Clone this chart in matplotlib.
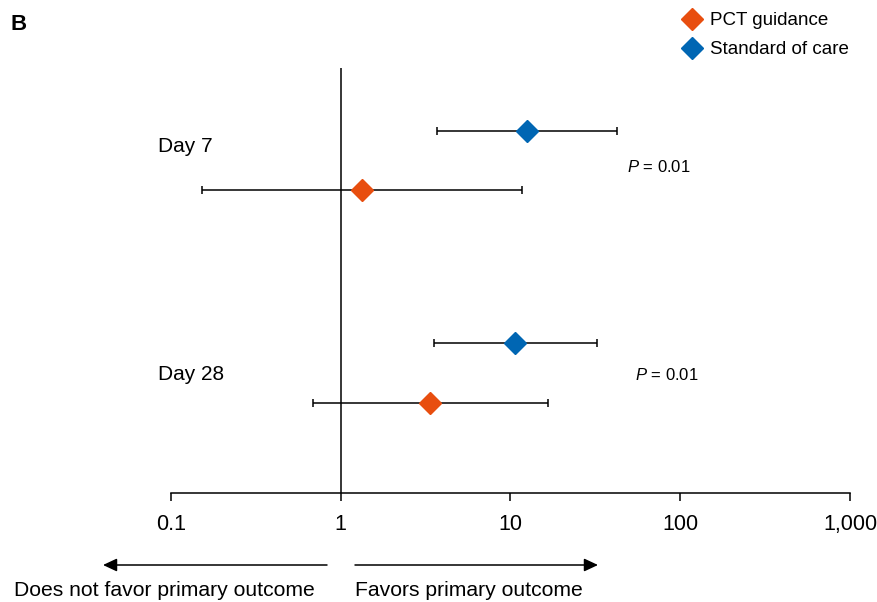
import numpy as np
import matplotlib
matplotlib.use("Agg")
import matplotlib.pyplot as plt
from matplotlib.ticker import FixedLocator, FixedFormatter, NullLocator

plt.rcParams['font.family'] = ['Liberation Sans', 'DejaVu Sans']
plt.rcParams['mathtext.fontset'] = 'custom'
plt.rcParams['mathtext.it'] = 'Liberation Sans:italic'
plt.rcParams['mathtext.rm'] = 'Liberation Sans'

#### data (odds ratio + 95% CI) ####
groups = ['Day 7', 'Day 28']
p_values = ['0.01', '0.01']
soc_or = [12.5, 10.6]
soc_lo = [3.68, 3.53]
soc_hi = [42.3, 32.2]
pct_or = [1.33, 3.35]
pct_lo = [0.152, 0.69]
pct_hi = [11.65, 16.6]
tick_vals = [0.1, 1, 10, 100, 1000]
tick_labels = ['0.1', '1', '10', '100', '1,000']

# row layout (y in axis units 0..10)
soc_y = [8.52, 3.53]
pct_y = [7.13, 2.12]

orange = '#E84E0F'
blue = '#0066B3'

fig = plt.figure(figsize=(8.78, 6.02), dpi=100)
ax = fig.add_axes([171/878, 1-493/602, (850-171)/878, (493-68)/602])

ax.set_xscale('log')
ax.set_xlim(0.1, 1000)
ax.set_ylim(0, 10)

ax.axvline(1, color='black', lw=1.1, zorder=1)

def draw(x, lo, hi, y, col, lab):
    x = np.array(x); y = np.array(y)
    err = [x - np.array(lo), np.array(hi) - x]
    ax.errorbar(x, y, xerr=err, fmt='none', ecolor='black', elinewidth=1.1,
                capsize=3, capthick=1.1, zorder=2)
    ax.plot(x, y, 'D', color=col, ms=11.5, mec=col, zorder=3, label=lab)

draw(pct_or, pct_lo, pct_hi, pct_y, orange, 'PCT guidance')
draw(soc_or, soc_lo, soc_hi, soc_y, blue, 'Standard of care')

# group labels and P values
fig.text(158/878, 1-147/602, groups[0], fontsize=15, va='center', ha='left')
fig.text(158/878, 1-375/602, groups[1], fontsize=15, va='center', ha='left')
fig.text(627/878, 1-167/602, r'$\it{P}$ = ' + p_values[0], fontsize=12, va='center', ha='left')
fig.text(635/878, 1-375/602, r'$\it{P}$ = ' + p_values[1], fontsize=12, va='center', ha='left')

for s in ['top', 'right', 'left']:
    ax.spines[s].set_visible(False)
ax.spines['bottom'].set_linewidth(1.1)
ax.yaxis.set_visible(False)
ax.xaxis.set_major_locator(FixedLocator(tick_vals))
ax.xaxis.set_major_formatter(FixedFormatter(tick_labels))
ax.xaxis.set_minor_locator(NullLocator())
ax.tick_params(axis='x', length=6, width=1.1, labelsize=15.5, pad=9)

leg = ax.legend(loc='upper right', bbox_to_anchor=(849/878, 1-12/602),
                bbox_transform=fig.transFigure, frameon=False, fontsize=13.5,
                handlelength=0.8, handletextpad=0.55, labelspacing=0.65,
                borderpad=0, borderaxespad=0)

# direction arrows
arrow_kw = dict(arrowstyle='-|>,head_length=0.6,head_width=0.28', color='black',
                lw=1.1, mutation_scale=14, shrinkA=0, shrinkB=0)
ax.annotate('', xy=(103/878, 1-565/602), xytext=(327/878, 1-565/602),
            xycoords='figure fraction', textcoords='figure fraction', arrowprops=arrow_kw)
ax.annotate('', xy=(598/878, 1-565/602), xytext=(355/878, 1-565/602),
            xycoords='figure fraction', textcoords='figure fraction', arrowprops=arrow_kw)
fig.text(14/878, 1-590/602, 'Does not favor primary outcome', fontsize=15.2, va='center', ha='left')
fig.text(355/878, 1-590/602, 'Favors primary outcome', fontsize=15.2, va='center', ha='left')

fig.text(10/878, 1-25/602, 'B', fontsize=16, fontweight='bold', va='center', ha='left')

plt.savefig('out.png', dpi=100)
